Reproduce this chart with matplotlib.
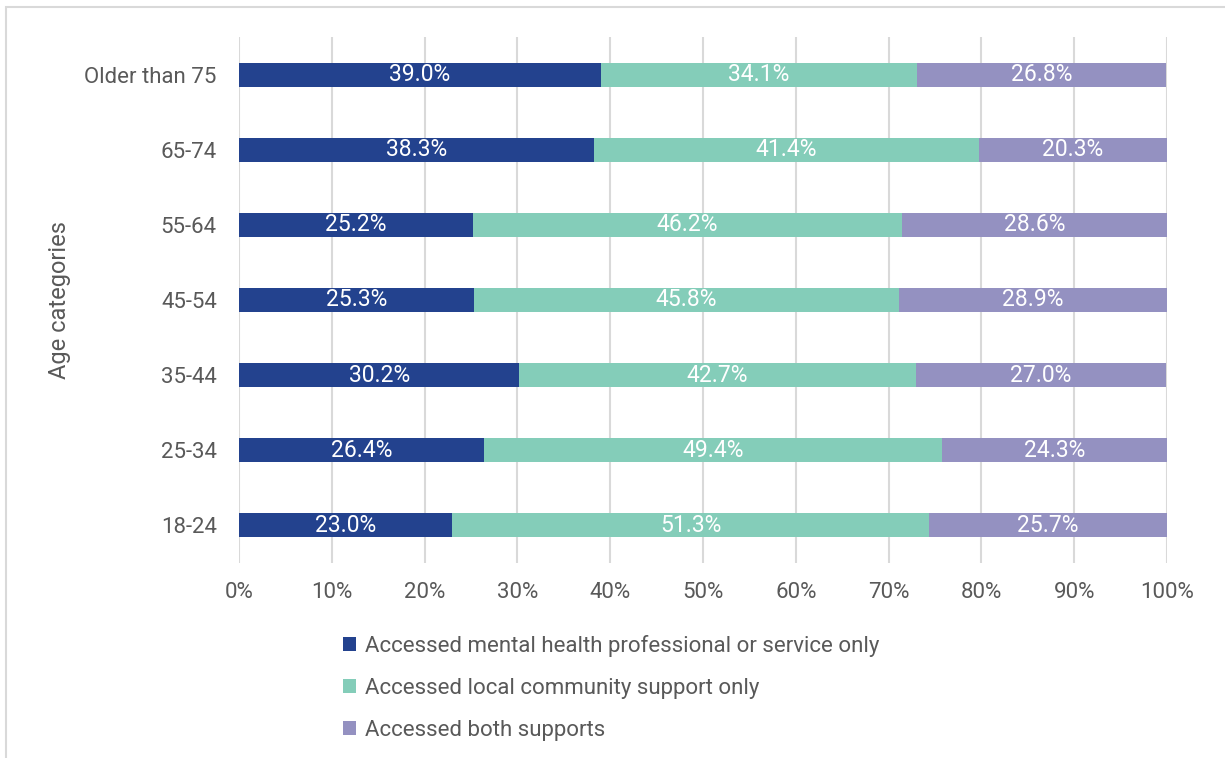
import matplotlib.pyplot as plt
import numpy as np
from matplotlib.patches import Rectangle, Patch

plt.rcParams["font.family"] = ["Roboto", "DejaVu Sans"]

categories = ["18-24", "25-34", "35-44", "45-54", "55-64", "65-74", "Older than 75"]
mh_only = [23.0, 26.4, 30.2, 25.3, 25.2, 38.3, 39.0]
community_only = [51.3, 49.4, 42.7, 45.8, 46.2, 41.4, 34.1]
both = [25.7, 24.3, 27.0, 28.9, 28.6, 20.3, 26.8]

series = [
    ("Accessed mental health professional or service only", mh_only, "#23428E"),
    ("Accessed local community support only", community_only, "#84CDB9"),
    ("Accessed both supports", both, "#9491C1"),
]

TXT = "#595959"
fig = plt.figure(figsize=(12.25, 7.58), dpi=100)
ax = fig.add_axes([239 / 1225, 1 - 563 / 758, 928 / 1225, 526 / 758])

# outer chart frame
fig.patches.append(Rectangle((6 / 1225, -0.01), 1.2, 1 - 7 / 758 + 0.01,
                             transform=fig.transFigure, fill=False,
                             edgecolor="#D9D9D9", linewidth=1.5))

y = np.arange(len(categories))
left = np.zeros(len(categories))
for name, vals, color in series:
    vals = np.array(vals)
    ax.barh(y, vals / 100, left=left / 100, height=0.32, color=color,
            label=name, zorder=3)
    for yi, l, v in zip(y, left, vals):
        ax.text((l + v / 2) / 100, yi, f"{v:.1f}%", ha="center", va="center",
                color="white", fontsize=16.5, zorder=4)
    left += vals

ax.set_xlim(0, 1)
ax.set_ylim(-0.5, len(categories) - 0.5)
ax.set_xticks(np.linspace(0, 1, 11))
ax.set_xticklabels([f"{int(t)}%" for t in np.linspace(0, 100, 11)])
ax.set_yticks(y)
ax.set_yticklabels(categories)
ax.tick_params(axis="both", length=0, labelsize=16, colors=TXT)
ax.tick_params(axis="x", pad=14)
ax.tick_params(axis="y", pad=16)
ax.grid(axis="x", color="#D9D9D9", linewidth=1.5, zorder=0)
for s in ax.spines.values():
    s.set_visible(False)
ax.set_ylabel("Age categories", fontsize=17, color=TXT, labelpad=10)

handles = [Patch(facecolor=c, label=n) for n, _, c in series]
fig.legend(handles=handles, loc="upper left", bbox_to_anchor=(323 / 1225, 1 - 615 / 758),
           frameon=False, fontsize=16, labelcolor=TXT, handlelength=0.6,
           handleheight=0.6, handletextpad=0.4, labelspacing=0.95)

fig.savefig("out.png", dpi=100)
